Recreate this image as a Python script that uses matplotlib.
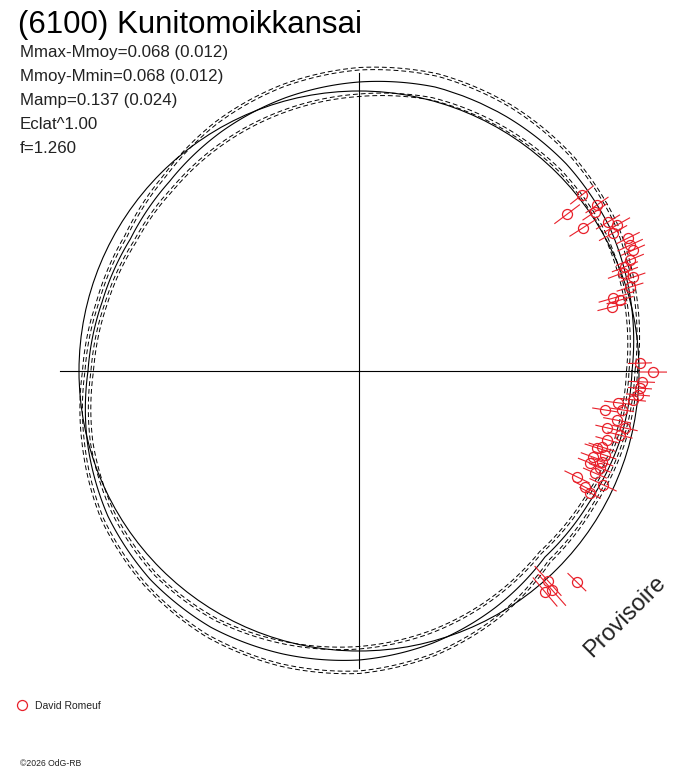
import numpy as np
import matplotlib.pyplot as plt

plt.rcParams['font.family'] = ['Liberation Sans', 'DejaVu Sans']

RED = '#e8202a'

# fitted lightcurve (polar), radius every 15 deg of rotation phase
model_ang = [0, 15, 30, 45, 60, 75, 90, 105, 120, 135, 150, 165,
             180, 195, 210, 225, 240, 255, 270, 285, 300, 315, 330, 345]
model_r = [273, 281, 289, 293, 294, 294, 289, 283, 276, 268, 264, 266,
           271, 281, 290, 295, 296, 293, 289, 282, 273, 263, 265, 270]
model_err = [3, 4, 6, 8, 10, 11, 12, 11, 9, 6, 4, 3,
             3, 3, 5, 6, 8, 10, 11, 10, 8, 5, 4, 3]
mean_r = 280  # mean magnitude circle

# observations: phase angle (deg), radius, error
pt_ang = [38.3, 37.0, 34.9, 34.0, 32.6, 30.9, 29.5, 28.5, 26.3, 24.9,
          23.8, 22.3, 21.4, 18.9, 20.4, 17.2, 16.0, 14.2, 15.2,
          1.6, -0.2, -2.2, -3.5, -4.9, -6.0, -7.0, -9.0, -8.4, -10.8,
          -12.1, -12.9, -13.8, -15.5, -17.4, -17.9, -18.9, -20.2, -20.5, -21.7,
          -21.9, -23.4, -25.9, -25.0, -27.2, -27.8,
          -48.0, -49.9, -48.6, -44.1]
pt_r = [284.1, 260.6, 290.2, 284.6, 265.8, 290.2, 296.4, 289.1, 300.1, 298.9,
        299.5, 292.9, 285.6, 289.7, 281.6, 283.7, 264.3, 261.0, 270.5,
        281.1, 294.0, 283.2, 281.5, 280.0, 275.5, 261.0, 249.1, 265.9, 262.6,
        272.0, 254.5, 268.7, 257.4, 254.6, 250.1, 260.0, 249.3, 259.5, 248.6,
        259.8, 257.1, 242.4, 269.3, 254.0, 261.2,
        282.5, 288.9, 291.9, 303.4]
pt_err = [15, 16, 14, 15, 16, 14, 15, 16, 13, 14,
          13, 15, 14, 13, 16, 14, 15, 15, 14,
          12, 14, 13, 12, 12, 13, 14, 13, 12, 14,
          13, 12, 13, 12, 14, 13, 12, 13, 12, 13,
          12, 13, 14, 15, 13, 12,
          20, 19, 21, 13]

# axis cross lengths (right, up, left, down)
cross_ang = [0, 90, 180, 270]
cross_len = [278, 298, 299, 297]

info = ["Mmax-Mmoy=0.068 (0.012)", "Mmoy-Mmin=0.068 (0.012)",
        "Mamp=0.137 (0.024)", "Eclat^1.00", "f=1.260"]

fig = plt.figure(figsize=(6.88, 7.68), dpi=100)
rmax = 340
ax = fig.add_axes([(359 - rmax) / 688, (397 - rmax) / 768, 2 * rmax / 688, 2 * rmax / 768],
                  projection='polar')
ax.set_ylim(0, rmax)
ax.set_axis_off()


def curve(t, r, **kw):
    # let the polar transform draw arcs between the sampled phases
    ln, = ax.plot(t, r, color='k', **kw)
    ln.get_path()._interpolation_steps = 30
    return ln


for a, l in zip(cross_ang, cross_len):
    ax.plot([np.deg2rad(a)] * 2, [0, l], color='k', lw=0.8)

th = np.deg2rad(np.append(model_ang, 360))
mr = np.append(model_r, model_r[0])
me = np.append(model_err, model_err[0])
curve(th, mr, lw=0.8)
for off in (0, 2.5):
    curve(th, mr + me + off, lw=0.7, dashes=(5, 3))
    curve(th, mr - me - off, lw=0.7, dashes=(5, 3))

curve(np.deg2rad([0, 90, 180, 270, 360]), [mean_r] * 5, lw=0.8)

pth = np.deg2rad(pt_ang)
ax.errorbar(pth, pt_r, yerr=pt_err, fmt='none', ecolor=RED, elinewidth=0.8, capsize=0)
ax.plot(pth, pt_r, 'o', ms=7.2, mfc='none', mec=RED, mew=0.9)

fig.text(18 / 688, 1 - 33 / 768, "(6100) Kunitomoikkansai", fontsize=22.5, color='k')
for i, s in enumerate(info):
    fig.text(20 / 688, 1 - (57 + 24 * i) / 768, s, fontsize=12.2, color='#222222')

fig.text(625 / 688, 1 - 617 / 768, "Provisoire", fontsize=17, rotation=45,
         rotation_mode='anchor', ha='center', va='center', color='#222222')

fig.lines.append(plt.Line2D([22 / 688], [1 - 705 / 768], marker='o', ms=7.2, mfc='none',
                            mec=RED, mew=0.9, transform=fig.transFigure))
fig.text(35 / 688, 1 - 709 / 768, "David Romeuf", fontsize=7.5, color='#222222')
fig.text(20 / 688, 1 - 766 / 768, "©2026 OdG-RB", fontsize=6.2, color='#222222')

fig.savefig('out.png', dpi=100, facecolor='white')
